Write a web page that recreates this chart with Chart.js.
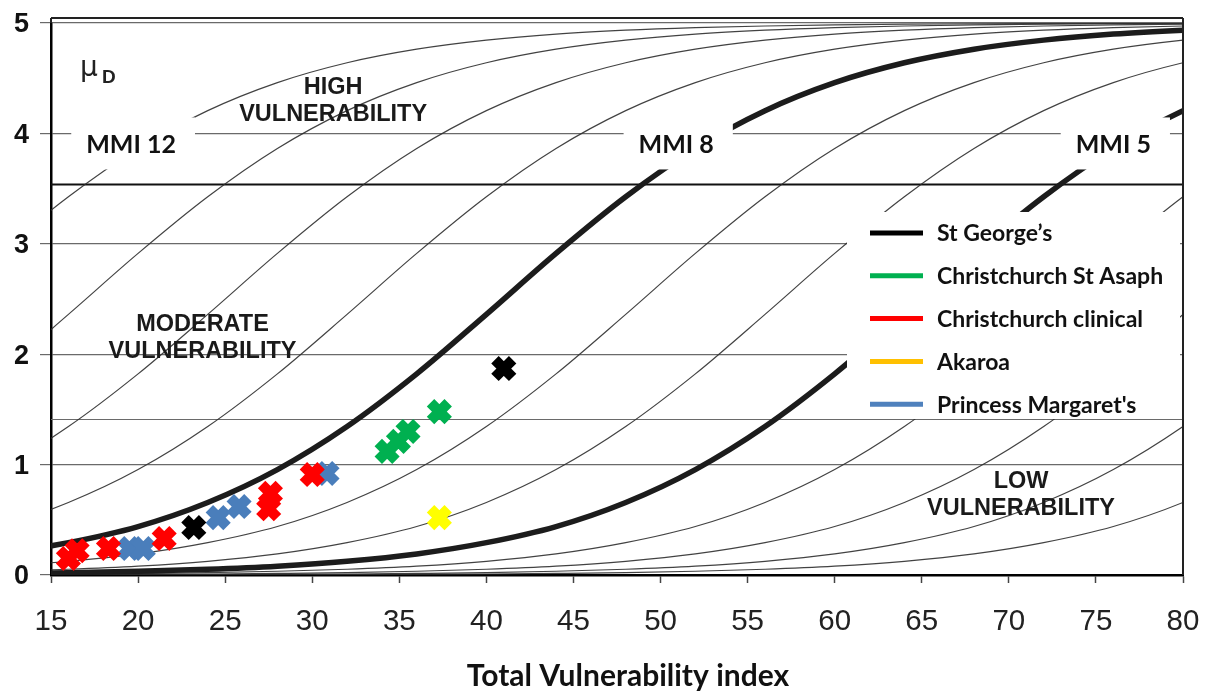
<!DOCTYPE html>
<html>
<head>
<meta charset="utf-8">
<script src="https://cdn.jsdelivr.net/npm/chart.js@4.4.0/dist/chart.umd.min.js"></script>
<style>
  html, body { margin: 0; padding: 0; background: #fff; }
  #wrap { width: 1210px; height: 691px; }
</style>
</head>
<body>
<div id="wrap"><canvas id="chart" width="1210" height="691"></canvas></div>
<script>
// Mean damage grade vs total vulnerability index, with MMI vulnerability curves
const xTicks = [15, 20, 25, 30, 35, 40, 45, 50, 55, 60, 65, 70, 75, 80];
const yTicks = [0, 1, 2, 3, 4, 5];
const thresholdLevels = [1.41, 3.54];

// MMI curve family: one shape (index -> muD),
// every other intensity is the same curve shifted along the index axis
const mmiLevels = [1, 2, 3, 4, 5, 6, 7, 8, 9, 10, 11, 12];
const thickLevels = [5, 8];
const shiftPerDegree = 8;
const curveIndex = [-44, -40, -36, -32, -28, -24, -20, -16, -12, -8, -4, 0, 4, 8, 12, 16, 20, 24, 28, 32,
    36, 40, 44, 48, 52, 56, 60, 64, 68, 72, 76, 80, 84, 88, 92, 96, 100, 104, 108, 112, 116];
const curveMuD = [0.000, 0.001, 0.001, 0.002, 0.002, 0.004, 0.006, 0.009, 0.014, 0.021, 0.034, 0.052, 0.080,
    0.124, 0.191, 0.293, 0.439, 0.657, 0.955, 1.345, 1.822, 2.361, 2.913, 3.426, 3.863, 4.206, 4.460, 4.640,
    4.763, 4.845, 4.900, 4.935, 4.958, 4.973, 4.983, 4.989, 4.993, 4.995, 4.997, 4.998, 4.999];

// Hospital buildings
const seriesNames = ["St George\u2019s", 'Christchurch St Asaph', 'Christchurch clinical', 'Akaroa', "Princess Margaret's"];
const legendColors = ['#000000', '#00B050', '#FF0000', '#FFC000', '#4F81BD'];
const markerColors = ['#000000', '#00B050', '#FF0000', '#FFFF00', '#4A7EBB'];
const stGeorgeX = [23.2, 41.0];
const stGeorgeY = [0.43, 1.87];
const asaphX = [34.3, 34.95, 35.5, 37.3];
const asaphY = [1.12, 1.21, 1.30, 1.48];
const clinicalX = [16.0, 16.5, 18.3, 21.5, 27.5, 27.6, 30.0];
const clinicalY = [0.15, 0.22, 0.24, 0.33, 0.60, 0.74, 0.91];
const akaroaX = [37.3];
const akaroaY = [0.52];
const margaretX = [19.5, 20.3, 24.6, 25.8, 30.85];
const margaretY = [0.24, 0.24, 0.52, 0.62, 0.92];

const seriesX = [stGeorgeX, asaphX, clinicalX, akaroaX, margaretX];
const seriesY = [stGeorgeY, asaphY, clinicalY, akaroaY, margaretY];

function pairs(xs, ys) {
    return xs.map((x, i) => ({ x: x, y: ys[i] }));
}

const pointDatasets = seriesNames.map((name, i) => ({
    label: name,
    data: pairs(seriesX[i], seriesY[i]),
    showLine: false,
    pointStyle: 'crossRot',
    pointRadius: 12.5,
    pointBorderWidth: 10.5,
    borderWidth: 10.5,
    pointBorderColor: markerColors[i],
    borderColor: markerColors[i],
    backgroundColor: markerColors[i],
    order: i === 4 ? 6 : i + 1
}));

const curveDatasets = mmiLevels.map(level => {
    const thick = thickLevels.includes(level);
    const offset = shiftPerDegree * (level - 8);
    return {
        label: 'MMI ' + level,
        data: curveIndex.map((u, i) => ({ x: u - offset, y: curveMuD[i] })),
        showLine: true,
        pointRadius: 0,
        borderColor: thick ? '#1c1c1c' : 'rgba(45, 45, 45, 0.9)',
        borderWidth: thick ? 5.5 : 1.2,
        cubicInterpolationMode: 'monotone',
        fill: false,
        order: thick ? 10 : 20
    };
});

// Horizontal damage threshold lines
const thresholdPlugin = {
    id: 'thresholds',
    beforeDatasetsDraw(chart) {
        const ctx = chart.ctx;
        const area = chart.chartArea;
        const y = chart.scales.y;
        ctx.save();
        thresholdLevels.forEach((v, i) => {
            const py = Math.round(y.getPixelForValue(v)) + 0.5;
            ctx.beginPath();
            ctx.strokeStyle = i === 1 ? '#111' : '#6a6a6a';
            ctx.lineWidth = i === 1 ? 2 : 1.2;
            ctx.moveTo(area.left, py);
            ctx.lineTo(area.right, py);
            ctx.stroke();
        });
        ctx.restore();
    }
};

// MMI labels, region captions, muD symbol and the legend box
const overlayPlugin = {
    id: 'overlays',
    afterDatasetsDraw(chart) {
        const ctx = chart.ctx;
        const xs = chart.scales.x;
        const ys = chart.scales.y;
        ctx.save();

        // MMI labels on white boxes
        const mmiLabels = [
            { text: 'MMI 12', x: 19.6, y: 3.90 },
            { text: 'MMI 8', x: 50.9, y: 3.90 },
            { text: 'MMI 5', x: 76.0, y: 3.90 }
        ];
        ctx.font = 'bold 25px Lato';
        ctx.textBaseline = 'middle';
        ctx.textAlign = 'center';
        mmiLabels.forEach(l => {
            const px = xs.getPixelForValue(l.x);
            const py = ys.getPixelForValue(l.y);
            const w = ctx.measureText(l.text).width;
            ctx.fillStyle = '#fff';
            ctx.fillRect(px - w / 2 - 15, py - 27, w + 34, 52);
            ctx.fillStyle = '#111';
            ctx.fillText(l.text, px, py);
        });

        // Region captions
        const regions = [
            { lines: ['HIGH', 'VULNERABILITY'], x: 31.2, y: 4.29 },
            { lines: ['MODERATE', 'VULNERABILITY'], x: 23.7, y: 2.15 },
            { lines: ['LOW', 'VULNERABILITY'], x: 70.7, y: 0.72 }
        ];
        ctx.font = 'bold 23.5px "Liberation Sans"';
        ctx.fillStyle = '#1a1a1a';
        regions.forEach(r => {
            const px = xs.getPixelForValue(r.x);
            const py = ys.getPixelForValue(r.y);
            ctx.fillText(r.lines[0], px, py - 13.5);
            ctx.fillText(r.lines[1], px, py + 13.5);
        });

        // Axis symbol
        ctx.textAlign = 'left';
        ctx.textBaseline = 'alphabetic';
        ctx.fillStyle = '#222';
        ctx.font = '28px "DejaVu Sans"';
        ctx.fillText('\u03bc', 80, 76);
        ctx.font = 'bold 19px "Liberation Sans"';
        ctx.fillText('D', 102, 83);

        // Legend
        const area = chart.chartArea;
        const boxLeft = 847, boxTop = 212, boxBottom = 419;
        ctx.fillStyle = '#fff';
        ctx.fillRect(boxLeft, boxTop, area.right - 3 - boxLeft, boxBottom - boxTop);
        ctx.font = 'bold 23px Lato';
        ctx.textBaseline = 'middle';
        seriesNames.forEach((name, i) => {
            const cy = 233 + i * 42.8;
            ctx.beginPath();
            ctx.strokeStyle = legendColors[i];
            ctx.lineWidth = 5;
            ctx.moveTo(870, cy);
            ctx.lineTo(923, cy);
            ctx.stroke();
            ctx.fillStyle = '#111';
            ctx.fillText(name, 937, cy + 1);
        });
        ctx.restore();
    }
};

// Tick labels, axis title and outer frame
const axisTextPlugin = {
    id: 'axisText',
    afterDraw(chart) {
        const ctx = chart.ctx;
        const a = chart.chartArea;
        const xs = chart.scales.x;
        const ys = chart.scales.y;
        ctx.save();
        ctx.fillStyle = '#222';
        ctx.textAlign = 'center';
        ctx.textBaseline = 'middle';
        ctx.font = '29.5px "Liberation Sans"';
        xTicks.forEach(v => ctx.fillText(String(v), xs.getPixelForValue(v), 622));
        ctx.fillStyle = '#111';
        ctx.font = 'bold 27px "Liberation Sans"';
        yTicks.forEach(v => ctx.fillText(String(v), 21.5, ys.getPixelForValue(v) + 2));
        ctx.font = 'bold 30px Lato';
        ctx.fillText('Total Vulnerability index', 628, 676);

        ctx.strokeStyle = '#222';
        ctx.lineWidth = 2;
        ctx.beginPath();
        ctx.moveTo(a.left, a.top - 5);
        ctx.lineTo(a.right, a.top - 5);
        ctx.moveTo(a.right, a.top - 5);
        ctx.lineTo(a.right, a.bottom);
        ctx.moveTo(a.left, a.top - 5);
        ctx.lineTo(a.left, a.top);
        ctx.stroke();
        ctx.restore();
    }
};

new Chart(document.getElementById('chart'), {
    type: 'scatter',
    data: { datasets: pointDatasets.concat(curveDatasets) },
    options: {
        responsive: false,
        animation: false,
        events: [],
        layout: { padding: { top: 19, right: 27, left: 0, bottom: 0 } },
        plugins: {
            legend: { display: false },
            tooltip: { enabled: false }
        },
        scales: {
            x: {
                type: 'linear',
                min: 15,
                max: 80,
                afterBuildTicks: s => { s.ticks = xTicks.map(v => ({ value: v })); },
                ticks: { display: false },
                grid: { drawOnChartArea: false, drawTicks: true, tickLength: 8, tickColor: '#444', tickWidth: 1.5 },
                border: { display: true, color: '#000', width: 2.5 },
                afterFit: s => { s.height = 116; }
            },
            y: {
                type: 'linear',
                min: 0,
                max: 5,
                afterBuildTicks: s => { s.ticks = yTicks.map(v => ({ value: v })); },
                ticks: { display: false },
                grid: { color: '#6a6a6a', lineWidth: 1.2, tickLength: 11, tickColor: '#6a6a6a' },
                border: { color: '#000', width: 2.5 },
                afterFit: s => { s.width = 51; }
            }
        }
    },
    plugins: [thresholdPlugin, overlayPlugin, axisTextPlugin]
});
</script>
</body>
</html>
